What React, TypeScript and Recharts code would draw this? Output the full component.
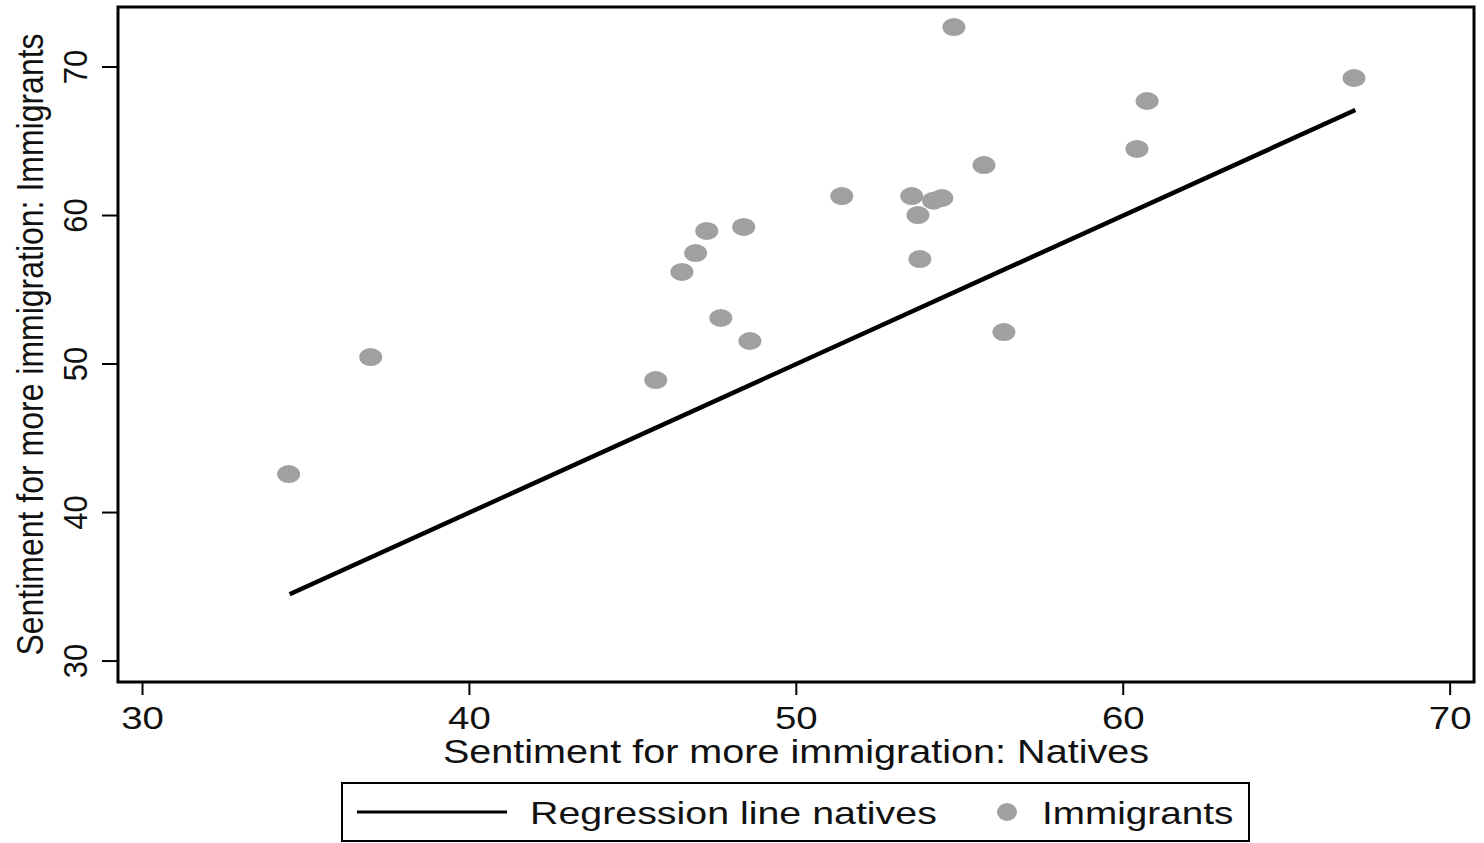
import {
  ScatterChart,
  Scatter,
  XAxis,
  YAxis,
  ReferenceArea,
  Legend,
} from 'recharts'

// Country-level sentiment for more immigration (natives vs. immigrants)
const nativesSentiment = [
  34.47, 36.98, 45.7, 46.5, 46.92, 47.26, 47.69, 48.39, 48.58, 51.39, 53.53,
  53.72, 53.78, 54.2, 54.45, 54.82, 55.74, 56.35, 60.42, 60.73, 67.06,
]
const immigrantsSentiment = [
  42.59, 50.47, 48.92, 56.2, 57.47, 58.96, 53.1, 59.23, 51.55, 61.31, 61.31,
  60.03, 57.07, 61.0, 61.18, 72.69, 63.4, 52.15, 64.48, 67.71, 69.26,
]

// Regression of natives on natives: the 45-degree line over the observed range
const regressionX = [34.5, 67.1]
const regressionY = [34.5, 67.1]

const xTicks = [30, 40, 50, 60, 70]
const yTicks = [30, 40, 50, 60, 70]

const X_DOMAIN: [number, number] = [29.25, 70.73]
const Y_DOMAIN: [number, number] = [28.59, 74.04]

const FONT = '"Liberation Sans", Arial, Helvetica, sans-serif'
const DOT_COLOR = '#a0a0a0'

const points = nativesSentiment.map((x, i) => ({ x, y: immigrantsSentiment[i] }))
const regression = regressionX.map((x, i) => ({ x, y: regressionY[i] }))

const XTick = ({ x, y, payload }: any) => (
  <g transform={`translate(${x},${y + 32})`}>
    <text transform="scale(1.2,1)" textAnchor="middle" fontSize={32} fontFamily={FONT} fill="#111">
      {payload.value}
    </text>
  </g>
)

const YTick = ({ x, y, payload }: any) => (
  <g transform={`translate(${x - 13},${y}) scale(1.1,1) rotate(-90)`}>
    <text textAnchor="middle" fontSize={31} fontFamily={FONT} fill="#111">
      {payload.value}
    </text>
  </g>
)

const XTitle = ({ viewBox }: any) => (
  <g transform={`translate(${viewBox.x + viewBox.width / 2},${viewBox.y + 81})`}>
    <text transform="scale(1.2,1)" textAnchor="middle" fontSize={33} fontFamily={FONT} fill="#111">
      Sentiment for more immigration: Natives
    </text>
  </g>
)

const YTitle = ({ viewBox }: any) => (
  <g transform={`translate(43,${viewBox.y + viewBox.height / 2}) scale(1.18,1) rotate(-90)`}>
    <text textAnchor="middle" fontSize={32} fontFamily={FONT} fill="#111">
      Sentiment for more immigration: Immigrants
    </text>
  </g>
)

const GrayDot = ({ cx, cy }: any) => (
  <ellipse cx={cx} cy={cy} rx={11.5} ry={9} fill={DOT_COLOR} />
)

const LegendBox = () => (
  <div
    style={{
      width: 909,
      height: 60,
      boxSizing: 'border-box',
      border: '2px solid #000',
      background: '#fff',
    }}
  >
    <svg width={905} height={56} style={{ display: 'block' }}>
      <line x1={14} y1={28} x2={164} y2={28} stroke="#000" strokeWidth={3} />
      <text transform="translate(187,40) scale(1.23,1)" fontSize={32} fontFamily={FONT} fill="#111">
        Regression line natives
      </text>
      <ellipse cx={664} cy={28} rx={10} ry={9} fill={DOT_COLOR} />
      <text transform="translate(699,40) scale(1.21,1)" fontSize={32} fontFamily={FONT} fill="#111">
        Immigrants
      </text>
    </svg>
  </div>
)

export default function App() {
  return (
    <div style={{ position: 'absolute', left: 0, top: 0, width: 1484, height: 843, background: '#fff' }}>
      <ScatterChart width={1484} height={843} margin={{ top: 7, right: 10, bottom: 1, left: 0 }}>
        <XAxis
          type="number"
          dataKey="x"
          domain={X_DOMAIN}
          ticks={xTicks}
          interval={0}
          allowDataOverflow
          height={100}
          axisLine={false}
          tickSize={13}
          tickLine={{ stroke: '#000', strokeWidth: 2 }}
          tick={<XTick />}
          label={{ content: <XTitle /> }}
        />
        <YAxis
          type="number"
          dataKey="y"
          domain={Y_DOMAIN}
          ticks={yTicks}
          interval={0}
          allowDataOverflow
          width={118}
          axisLine={false}
          tickSize={16}
          tickLine={{ stroke: '#000', strokeWidth: 2 }}
          tick={<YTick />}
          label={{ content: <YTitle /> }}
        />
        <ReferenceArea
          x1={X_DOMAIN[0]}
          x2={X_DOMAIN[1]}
          y1={Y_DOMAIN[0]}
          y2={Y_DOMAIN[1]}
          fill="none"
          stroke="#000"
          strokeWidth={3}
          ifOverflow="visible"
        />
        <Scatter
          name="Regression line natives"
          data={regression}
          line={{ stroke: '#000', strokeWidth: 4.5 }}
          shape={() => <g />}
          isAnimationActive={false}
        />
        <Scatter
          name="Immigrants"
          data={points}
          shape={<GrayDot />}
          isAnimationActive={false}
        />
        <Legend
          verticalAlign="bottom"
          content={<LegendBox />}
          wrapperStyle={{ left: 341, width: 909, height: 60, bottom: 1 }}
        />
      </ScatterChart>
    </div>
  )
}
